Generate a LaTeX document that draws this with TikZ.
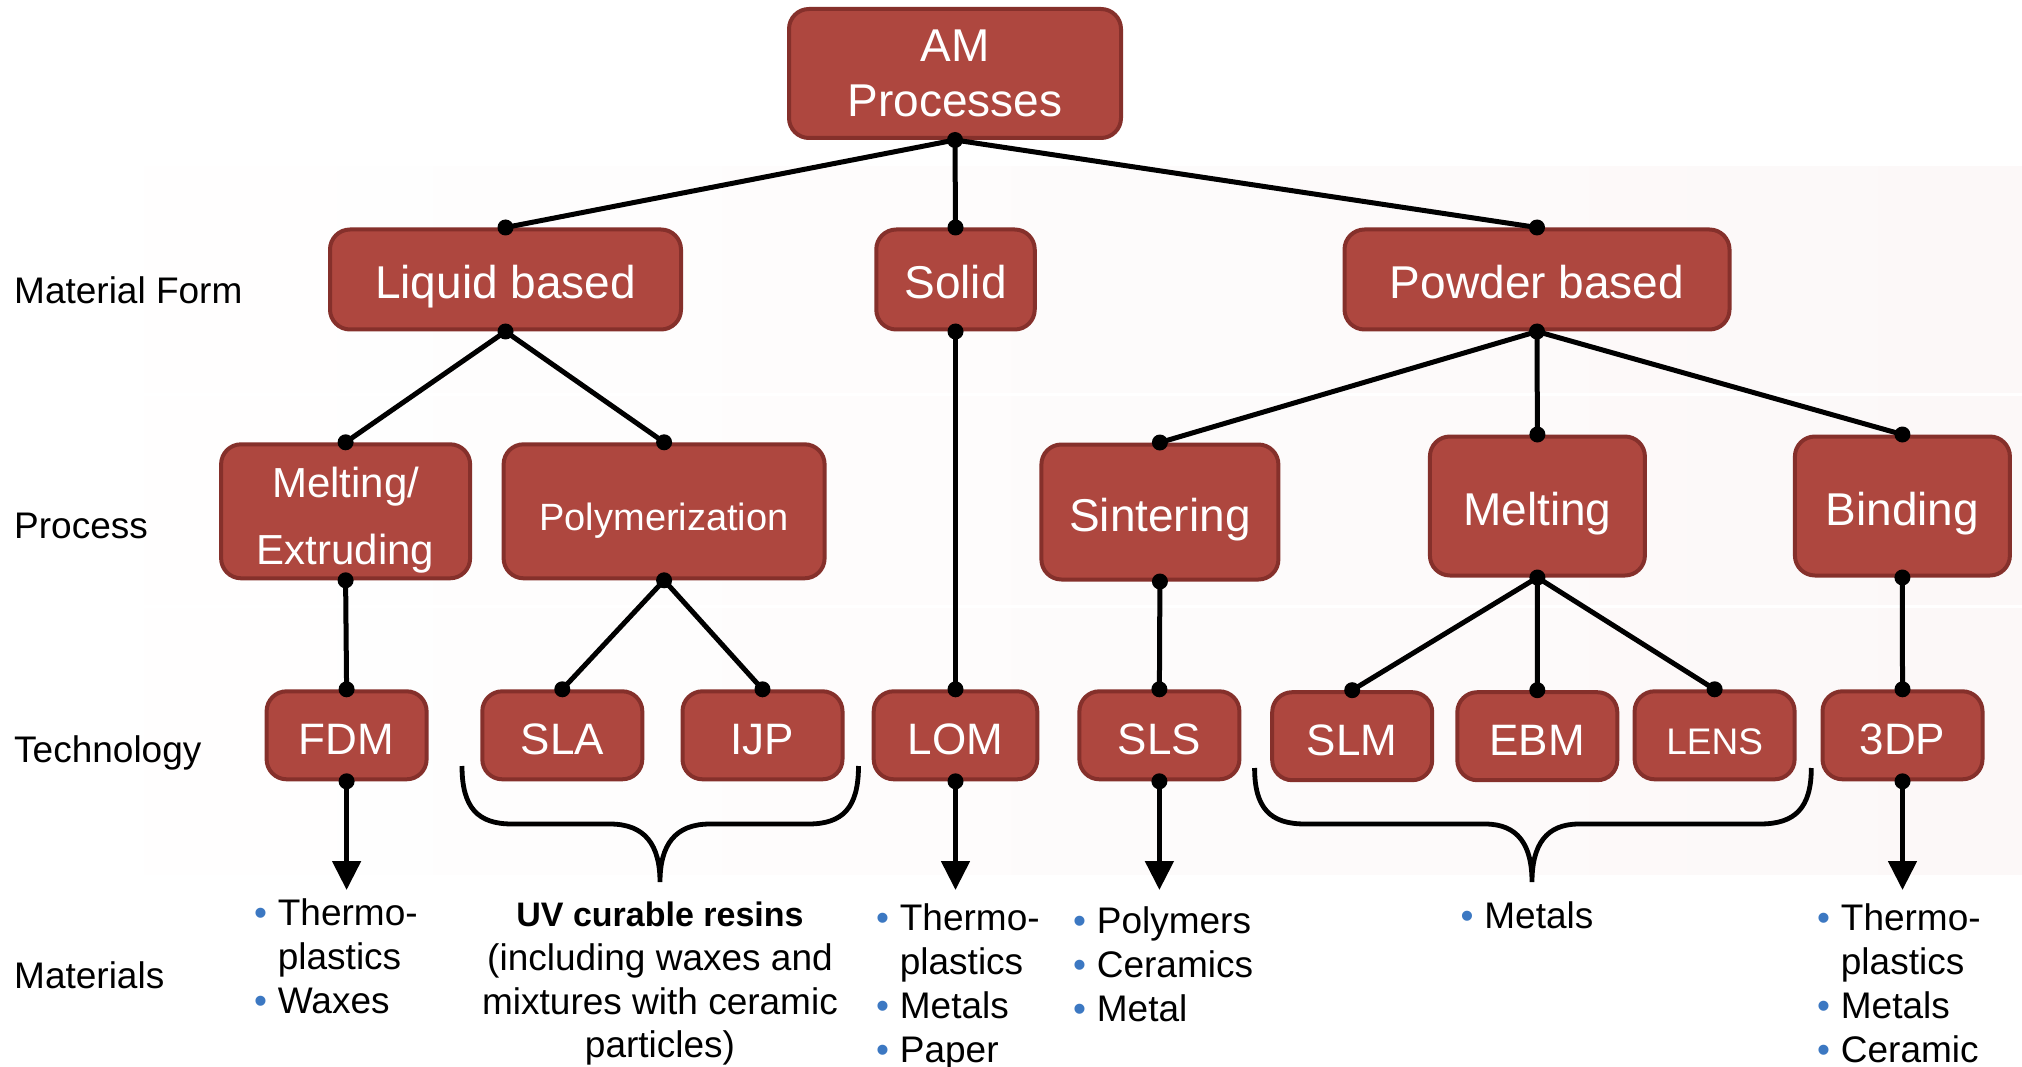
\documentclass[tikz,border=0pt]{standalone}
\usepackage{fontspec}
\setmainfont{Liberation Sans}
\usetikzlibrary{arrows.meta}
\definecolor{boxfill}{HTML}{AE473F}
\definecolor{boxborder}{HTML}{85302B}
\definecolor{bandpink}{HTML}{F3E1E1}
\definecolor{bandright}{HTML}{FCF8F8}
\definecolor{bblue}{HTML}{3C78C2}
\newcommand\bl{\makebox[0.64em][l]{\textcolor{bblue}{•}}}
\newcommand\ind{\hspace*{0.64em}}
\newcommand\nodesc[1]{\raisebox{0pt}[\height][0pt]{#1}}
\newcommand\tallfirst[1]{\raisebox{0pt}[\dimexpr\height+8pt\relax][\depth]{#1}}
\begin{document}
\begin{tikzpicture}[x=1pt,y=-1pt,
  box/.style={rectangle, rounded corners=20pt, fill=boxfill, draw=boxborder,
    line width=4pt, text=white, inner sep=0pt, align=center},
  one/.style={text height=38pt, text depth=0pt},
  bigf/.style={font=\fontsize{46}{55}\selectfont},
  tech/.style={box, one, minimum width=160pt, minimum height=88pt,
    font=\fontsize{44}{50}\selectfont},
  rowlab/.style={anchor=base west, inner sep=0pt, font=\fontsize{37}{44}\selectfont},
  mat/.style={anchor=north west, inner sep=0pt, align=left,
    font=\fontsize{37}{44}\selectfont},
  link/.style={line width=5pt},
  arr/.style={line width=5pt, -{Triangle[width=28pt,length=29pt]}},
  bracepath/.style={line width=4.8pt, line cap=butt}
]
\useasboundingbox (0,0) rectangle (2022,1067);
\fill[white] (0,0) rectangle (2022,1067);
% background band
\shade[left color=white, middle color=bandpink, right color=bandright]
  (0,167) rectangle (2022,874.5);
\draw[white, line width=3pt] (0,394) -- (2022,394);
\draw[white, line width=3pt] (0,606) -- (2022,606);

% row labels
\node[rowlab] (lab1) at (14,304) {Material Form};
\node[rowlab] (lab2) at (14,538) {Process};
\node[rowlab] (lab3) at (14,762) {Technology};
\node[rowlab] (lab4) at (14,988) {Materials};

% nodes
\node[box, bigf, minimum width=332pt, minimum height=129pt] (am) at (955,73.5)
  {AM\\\nodesc{Processes}};
\node[box, one, bigf, minimum width=351pt, minimum height=100pt] (liquid) at (505.5,279.5) {Liquid based};
\node[box, one, bigf, minimum width=158.5pt, minimum height=100pt] (solid) at (955.5,279.5) {Solid};
\node[box, one, bigf, minimum width=385pt, minimum height=100pt] (powder) at (1537,279.5) {Powder based};

\node[box, font=\fontsize{42}{67}\selectfont, minimum width=249pt, minimum height=134pt] (meltext) at (345.6,511.3)
  {\tallfirst{Melting/}\\\nodesc{Extruding}};
\node[box, one, font=\fontsize{38}{44}\selectfont, minimum width=321pt, minimum height=134pt] (poly) at (664.1,511.3) {Polymerization};
\node[box, one, bigf, minimum width=237pt, minimum height=135pt] (sinter) at (1159.9,512) {Sintering};
\node[box, one, bigf, minimum width=215pt, minimum height=139pt] (melting) at (1537.4,506) {Melting};
\node[box, one, bigf, minimum width=215pt, minimum height=139pt] (binding) at (1902.4,506) {Binding};

\node[tech] (fdm) at (346.6,735.3) {FDM};
\node[tech] (sla) at (562.3,735.3) {SLA};
\node[tech] (ijp) at (762.5,735.3) {IJP};
\node[tech, minimum width=163.6pt] (lom) at (955.5,735.3) {LOM};
\node[tech] (sls) at (1159.4,735.3) {SLS};
\node[tech] (slm) at (1352.2,736.2) {SLM};
\node[tech] (ebm) at (1537.3,736.2) {EBM};
\node[tech, font=\fontsize{37}{44}\selectfont] (lens) at (1714.6,735.3) {LENS};
\node[tech] (tdp) at (1902.5,735.3) {3DP};

% connectors
\draw[link] (am.south) -- (liquid.north);
\draw[link] (am.south) -- (solid.north);
\draw[link] (am.south) -- (powder.north);
\draw[link] (liquid.south) -- (meltext.north);
\draw[link] (liquid.south) -- (poly.north);
\draw[link] (solid.south) -- (lom.north);
\draw[link] (powder.south) -- (sinter.north);
\draw[link] (powder.south) -- (melting.north);
\draw[link] (powder.south) -- (binding.north);
\draw[link] (meltext.south) -- (fdm.north);
\draw[link] (poly.south) -- (sla.north);
\draw[link] (poly.south) -- (ijp.north);
\draw[link] (sinter.south) -- (sls.north);
\draw[link] (melting.south) -- (slm.north);
\draw[link] (melting.south) -- (ebm.north);
\draw[link] (melting.south) -- (lens.north);
\draw[link] (binding.south) -- (tdp.north);

% arrows to materials
\coordinate (fdmEnd) at (346.6,890);
\coordinate (lomEnd) at (955.5,890);
\coordinate (slsEnd) at (1159.4,890);
\coordinate (tdpEnd) at (1902.5,890);
\draw[arr] (fdm.south) -- (fdmEnd);
\draw[arr] (lom.south) -- (lomEnd);
\draw[arr] (sls.south) -- (slsEnd);
\draw[arr] (tdp.south) -- (tdpEnd);

% dots
\foreach \p in {am.south, liquid.north, solid.north, powder.north,
  liquid.south, meltext.north, poly.north, solid.south, lom.north,
  powder.south, sinter.north, melting.north, binding.north,
  meltext.south, fdm.north, poly.south, sla.north, ijp.north,
  sinter.south, sls.north, melting.south, slm.north, ebm.north, lens.north,
  binding.south, tdp.north, fdm.south, lom.south, sls.south, tdp.south}
  \fill (\p) circle (8pt);

% braces
\draw[bracepath] (462,766) .. controls (462,808) and (478,824) .. (512,824)
  -- (610,824) .. controls (645,824) and (660,845) .. (660,882)
  (858.5,766) .. controls (858.5,808) and (842.5,824) .. (808.5,824)
  -- (710,824) .. controls (675,824) and (660,845) .. (660,882);
\draw[bracepath] (1254.6,768) .. controls (1254.6,808) and (1270,824) .. (1305,824)
  -- (1485,824) .. controls (1518,824) and (1532,845) .. (1532,882)
  (1811.3,768) .. controls (1811.3,808) and (1795,824) .. (1760,824)
  -- (1579,824) .. controls (1546,824) and (1532,845) .. (1532,882);

% materials
\node[mat] (fdmmat) at (254,898) {\bl Thermo-\\\ind plastics\\\bl Waxes};
\node[anchor=north, inner sep=0pt, align=center, font=\fontsize{37}{43.6}\selectfont] (uvmat) at (660,902)
  {{\fontsize{34}{43.6}\selectfont\bfseries UV curable resins}\\(including waxes and\\mixtures with ceramic\\particles)};
\node[mat] (lommat) at (876,903) {\bl Thermo-\\\ind plastics\\\bl Metals\\\bl Paper};
\node[mat] (slsmat) at (1073,906) {\bl Polymers\\\bl Ceramics\\\bl Metal};
\node[mat] (metmat) at (1460.5,901) {\bl Metals};
\node[mat] (tdpmat) at (1817,903.5) {\bl Thermo-\\\ind plastics\\\bl Metals\\\bl Ceramic};
\end{tikzpicture}
\end{document}
